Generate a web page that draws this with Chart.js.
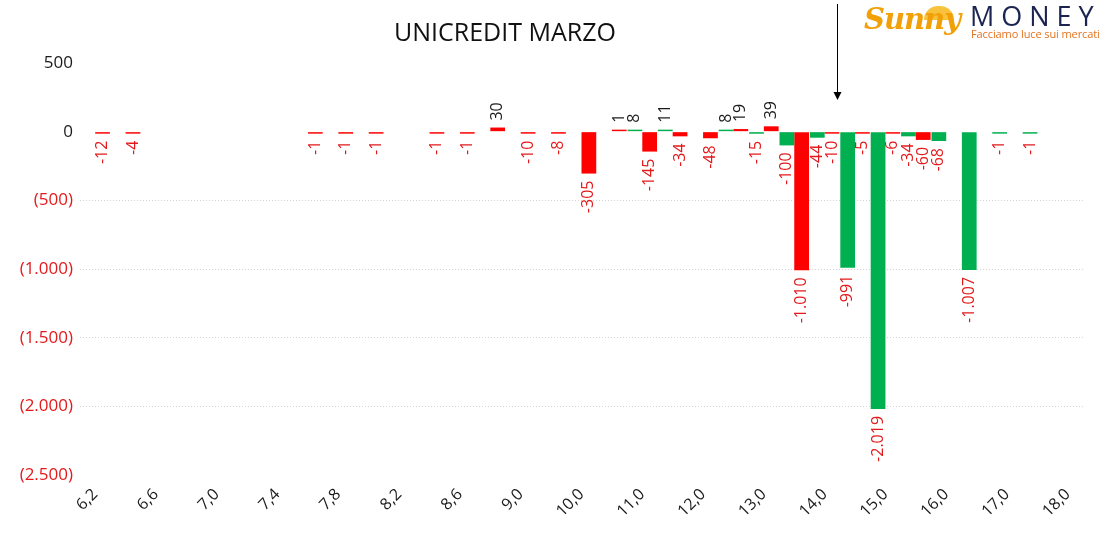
<!DOCTYPE html>
<html>
<head>
<meta charset="utf-8">
<script src="https://cdn.jsdelivr.net/npm/chart.js"></script>
<style>
  html, body { margin: 0; padding: 0; background: #fff; }
  #wrap { position: relative; width: 1120px; height: 542px; }
  #title { position: absolute; left: 305px; width: 400px; top: 14px; text-align: center;
           font-family: 'Open Sans', sans-serif; font-size: 25px; color: #111; }
  #logo { position: absolute; left: 862px; top: 0; width: 258px; height: 44px; }
  #logo .sun { position: absolute; left: 62px; top: 6px; width: 30px; height: 14px;
               border-radius: 15px 15px 0 0; background: #f9c23c; z-index: 0; }
  #logo .sunny { position: absolute; left: 2px; top: 2px; font-family: 'DejaVu Serif', serif;
                 font-style: italic; font-weight: bold; font-size: 29px; color: #f2a007;
                 letter-spacing: -1px; z-index: 1; }
  #logo .money { position: absolute; left: 108px; top: -3px; font-family: 'Open Sans', sans-serif;
                 font-size: 27px; color: #1b2450; letter-spacing: 7px; white-space: nowrap; }
  #logo .slogan { position: absolute; left: 109px; top: 26px; font-family: 'Open Sans', sans-serif;
                  font-size: 11px; color: #e4731e; white-space: nowrap; letter-spacing: -0.1px; }
</style>
</head>
<body>
<div id="wrap">
  <canvas id="chart" width="1120" height="542"></canvas>
  <div id="title">UNICREDIT MARZO</div>
  <div id="logo">
    <div class="sun"></div>
    <div class="sunny">Sunny</div>
    <div class="money">MONEY</div>
    <div class="slogan">Facciamo luce sui mercati</div>
  </div>
</div>
<script>
// strikes (category axis)
var strikes = ['6,2','6,4','6,6','6,8','7,0','7,2','7,4','7,6','7,8','8,0','8,2','8,4','8,6','8,8','9,0','9,5',
               '10,0','10,5','11,0','11,5','12,0','12,5','13,0','13,5','14,0','14,5','15,0','15,5',
               '16,0','16,5','17,0','17,5','18,0'];
// labels shown under the axis
var xTickLabels = ['6,2','6,6','7,0','7,4','7,8','8,2','8,6','9,0','10,0','11,0','12,0','13,0','14,0','15,0','16,0','17,0','18,0'];

// green series
var callValues = [null,null,null,null,null,null,null,null,null,null,null,null,null,null,null,null,
                  null,null,8,11,null,8,-15,-100,-44,-991,-2019,-34,-68,-1007,-1,-1,null];
// red series
var putValues = [-12,-4,null,null,null,null,null,-1,-1,-1,null,-1,-1,30,-10,-8,
                 -305,1,-145,-34,-48,19,39,-1010,-10,-5,-6,-60,null,null,null,null,null];

var yTicks = { min: -2500, max: 500, step: 500 };
var arrowStrike = 14.2;   // arrow marker position on the strike axis
var arrowTipValue = 230;  // where the arrow ends on the value axis

var RED = '#ff0000';
var GREEN = '#00b050';
var LABEL_RED = '#e3191b';

function fmtThousands(v) {
    return String(Math.abs(v)).replace(/\B(?=(\d{3})+(?!\d))/g, '.');
}

// value labels, rotated, outside the bar end
var barLabels = {
    id: 'barLabels',
    afterDatasetsDraw: function(chart) {
        var c = chart.ctx;
        c.save();
        c.font = '16px "Open Sans"';
        c.textBaseline = 'middle';
        chart.data.datasets.forEach(function(ds, di) {
            var meta = chart.getDatasetMeta(di);
            meta.data.forEach(function(bar, i) {
                var v = ds.data[i];
                if (v === null || v === undefined) return;
                var gap = 7;
                c.save();
                if (v < 0) {
                    c.translate(bar.x, bar.y + gap);
                    c.rotate(-Math.PI / 2);
                    c.textAlign = 'right';
                    c.fillStyle = LABEL_RED;
                    c.fillText('-' + fmtThousands(v), 0, 0);
                } else {
                    c.translate(bar.x, bar.y - gap);
                    c.rotate(-Math.PI / 2);
                    c.textAlign = 'left';
                    c.fillStyle = '#1a1a1a';
                    c.fillText(fmtThousands(v), 0, 0);
                }
                c.restore();
            });
        });
        c.restore();
    }
};

// down arrow pointing at the current price
var priceArrow = {
    id: 'priceArrow',
    afterDraw: function(chart) {
        var xs = chart.scales.x, ys = chart.scales.y;
        var lo = -1;
        for (var i = 0; i < strikes.length - 1; i++) {
            var a = parseFloat(strikes[i].replace(',', '.'));
            var b = parseFloat(strikes[i + 1].replace(',', '.'));
            if (arrowStrike >= a && arrowStrike <= b) { lo = i; break; }
        }
        if (lo < 0) return;
        var a0 = parseFloat(strikes[lo].replace(',', '.'));
        var b0 = parseFloat(strikes[lo + 1].replace(',', '.'));
        var p0 = xs.getPixelForValue(lo), p1 = xs.getPixelForValue(lo + 1);
        var x = Math.round(p0 + (arrowStrike - a0) / (b0 - a0) * (p1 - p0)) + 0.5;
        var yEnd = ys.getPixelForValue(arrowTipValue);
        var c = chart.ctx;
        c.save();
        c.strokeStyle = '#000';
        c.fillStyle = '#000';
        c.lineWidth = 1;
        c.beginPath();
        c.moveTo(x, 4);
        c.lineTo(x, yEnd - 6);
        c.stroke();
        c.beginPath();
        c.moveTo(x - 4, yEnd - 8);
        c.lineTo(x + 4, yEnd - 8);
        c.lineTo(x, yEnd);
        c.closePath();
        c.fill();
        c.restore();
    }
};

new Chart(document.getElementById('chart').getContext('2d'), {
    type: 'bar',
    data: {
        labels: strikes,
        datasets: [
            { label: 'Call', data: callValues, backgroundColor: GREEN, categoryPercentage: 0.97, barPercentage: 1, minBarLength: 2 },
            { label: 'Put', data: putValues, backgroundColor: RED, categoryPercentage: 0.97, barPercentage: 1, minBarLength: 2 }
        ]
    },
    options: {
        responsive: false,
        animation: false,
        layout: { padding: { top: 63, right: 37, bottom: 0, left: 0 } },
        plugins: {
            legend: { display: false },
            tooltip: { enabled: false }
        },
        scales: {
            x: {
                grid: { display: false },
                border: { display: false },
                afterFit: function(s) { s.height = 67; },
                ticks: {
                    autoSkip: false,
                    maxRotation: 45,
                    minRotation: 45,
                    padding: 2,
                    color: '#1a1a1a',
                    font: { family: 'Open Sans', size: 16 },
                    callback: function(val, i) {
                        var l = strikes[i];
                        return xTickLabels.indexOf(l) >= 0 ? l : '';
                    }
                }
            },
            y: {
                min: yTicks.min,
                max: yTicks.max,
                afterFit: function(s) { s.width = 80; },
                border: { display: false, dash: [1, 2] },
                grid: {
                    drawTicks: false,
                    color: function(ctx) {
                        var v = ctx.tick ? ctx.tick.value : 0;
                        return (v < 0 && v > yTicks.min) ? '#d4d4d4' : 'rgba(0,0,0,0)';
                    }
                },
                ticks: {
                    stepSize: yTicks.step,
                    padding: 7,
                    font: { family: 'Open Sans', size: 17 },
                    color: function(ctx) { return ctx.tick.value < 0 ? LABEL_RED : '#1a1a1a'; },
                    callback: function(v) {
                        return v < 0 ? '(' + fmtThousands(v) + ')' : fmtThousands(v);
                    }
                }
            }
        }
    },
    plugins: [barLabels, priceArrow]
});
</script>
</body>
</html>
